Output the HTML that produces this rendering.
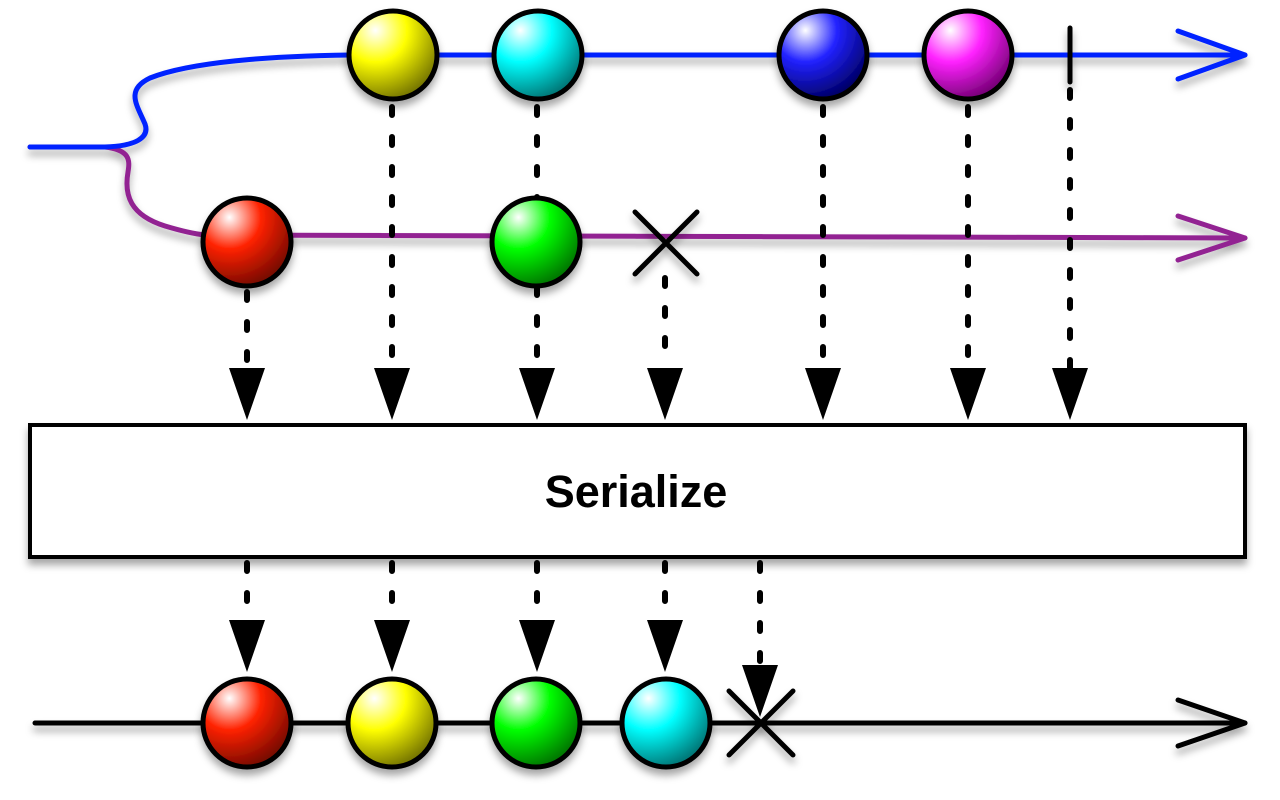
<!DOCTYPE html>
<html><head><style>html,body{margin:0;padding:0;background:#fff;}svg{display:block}</style></head>
<body>
<svg width="1280" height="800" viewBox="0 0 1280 800" xmlns="http://www.w3.org/2000/svg">
<defs>
<filter id="sh" x="-20%" y="-20%" width="140%" height="160%"><feDropShadow dx="0" dy="6" stdDeviation="4" flood-color="#000" flood-opacity="0.35"/></filter>
<radialGradient id="gy" cx="30%" cy="22%" r="80%"><stop offset="0" stop-color="#fff"/><stop offset="0.45" stop-color="#ff0"/><stop offset="1" stop-color="#7a7a00"/></radialGradient>
<radialGradient id="gc" cx="30%" cy="22%" r="80%"><stop offset="0" stop-color="#fff"/><stop offset="0.45" stop-color="#0ff"/><stop offset="1" stop-color="#007a7a"/></radialGradient>
<radialGradient id="gb" cx="30%" cy="22%" r="80%"><stop offset="0" stop-color="#fff"/><stop offset="0.45" stop-color="#22f"/><stop offset="1" stop-color="#00006a"/></radialGradient>
<radialGradient id="gm" cx="30%" cy="22%" r="80%"><stop offset="0" stop-color="#fff"/><stop offset="0.45" stop-color="#f2f"/><stop offset="1" stop-color="#7a007a"/></radialGradient>
<radialGradient id="gr" cx="30%" cy="22%" r="80%"><stop offset="0" stop-color="#fff"/><stop offset="0.45" stop-color="#f20"/><stop offset="1" stop-color="#7a0a00"/></radialGradient>
<radialGradient id="gg" cx="30%" cy="22%" r="80%"><stop offset="0" stop-color="#fff"/><stop offset="0.45" stop-color="#0f0"/><stop offset="1" stop-color="#007a00"/></radialGradient>
</defs>
<g filter="url(#sh)" fill="none" stroke-linecap="round" stroke-linejoin="round">
<path d="M30,147 L105,147 C130,150 130,160 128,172 C124,195 130,215 165,226 C185,232 195,234 205,235 L1245,238" stroke="#922492" stroke-width="5"/>
<path d="M1178,216 L1245,238 L1178,260" stroke="#922492" stroke-width="5"/>
<path d="M30,147 L105,147 C135,146 150,138 145,124 C137,105 125,90 150,78 C190,62 270,56 350,55 L1245,55" stroke="#0022ff" stroke-width="5"/>
<path d="M1178,31 L1245,55 L1178,79" stroke="#0022ff" stroke-width="5"/>
<line x1="1070" y1="28" x2="1070" y2="82" stroke="#000" stroke-width="5"/>
<line x1="35" y1="723" x2="1245" y2="723" stroke="#000" stroke-width="5"/>
<path d="M1178,700 L1245,723 L1178,746" stroke="#000" stroke-width="5"/>
</g>
<g stroke="#000" stroke-width="6" stroke-linecap="round" stroke-dasharray="8 22" fill="none">
<path d="M247,292 V368 M392,107 V368 M537,107 V368 M665,278 V368 M823,107 V368 M968,107 V368 M1070,90 V368"/>
<path d="M247,563 V620 M392,563 V620 M537,563 V620 M665,563 V620 M760,563 V665"/>
</g>
<g fill="#000">
<path d="M229,368 h36 l-18,52z M374,368 h36 l-18,52z M519,368 h36 l-18,52z M647,368 h36 l-18,52z M805,368 h36 l-18,52z M950,368 h36 l-18,52z M1052,368 h36 l-18,52z"/>
<path d="M229,620 h36 l-18,52z M374,620 h36 l-18,52z M519,620 h36 l-18,52z M647,620 h36 l-18,52z M742,665 h36 l-18,52z"/>
</g>
<g filter="url(#sh)">
<rect x="30" y="425" width="1215" height="132" fill="#fff" stroke="#000" stroke-width="4"/>
</g>
<text x="636" y="507" text-anchor="middle" font-family="Liberation Sans, sans-serif" font-weight="bold" font-size="45">Serialize</text>
<g filter="url(#sh)" stroke="#000" stroke-width="5">
<circle cx="393" cy="55" r="44" fill="url(#gy)"/>
<circle cx="538" cy="55" r="44" fill="url(#gc)"/>
<circle cx="823" cy="55" r="44" fill="url(#gb)"/>
<circle cx="968" cy="55" r="44" fill="url(#gm)"/>
<circle cx="247" cy="242" r="44" fill="url(#gr)"/>
<circle cx="536" cy="242" r="44" fill="url(#gg)"/>
<circle cx="247" cy="723" r="44" fill="url(#gr)"/>
<circle cx="392" cy="723" r="44" fill="url(#gy)"/>
<circle cx="536" cy="723" r="44" fill="url(#gg)"/>
<circle cx="666" cy="723" r="44" fill="url(#gc)"/>
<path d="M635,212 L697,274 M697,212 L635,274" fill="none" stroke-width="5" stroke-linecap="round"/>
<path d="M729,691 L793,755 M793,691 L729,755" fill="none" stroke-width="5" stroke-linecap="round"/>
</g>
</svg>
</body></html>
